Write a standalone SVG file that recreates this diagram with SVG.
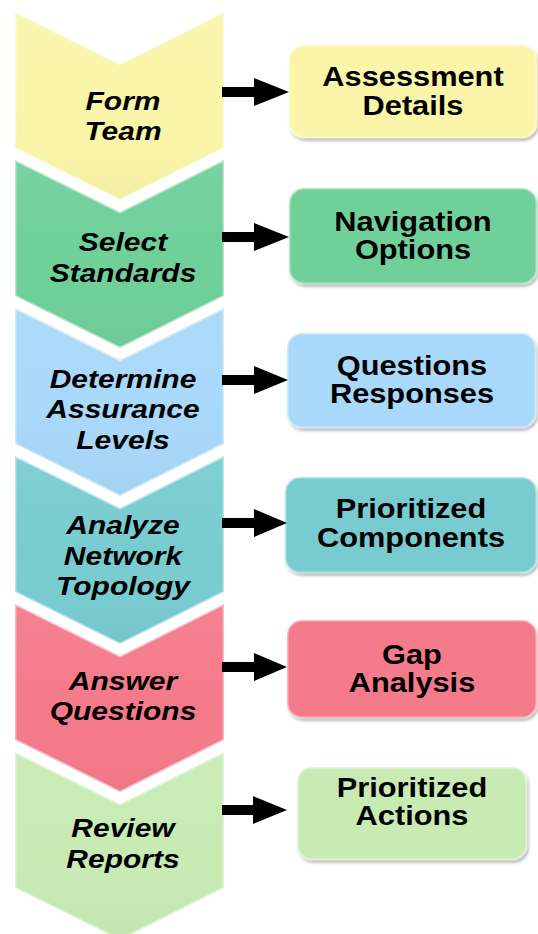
<svg xmlns="http://www.w3.org/2000/svg" width="538" height="934" viewBox="0 0 538 934">
<style>
.step{font-family:"Liberation Sans",Arial,sans-serif;font-weight:bold;font-style:italic;font-size:25px;fill:#000;text-anchor:middle}
.out{font-family:"Liberation Sans",Arial,sans-serif;font-weight:bold;font-size:27px;fill:#000;text-anchor:middle}
.bev{fill:none;stroke:#ffffff;stroke-opacity:0.45;stroke-width:3}
.arrow{fill:#000}
</style>
<defs>
<filter id="sh" x="-10%" y="-10%" width="125%" height="130%">
<feDropShadow dx="1.5" dy="2.5" stdDeviation="1.5" flood-color="#000" flood-opacity="0.35"/>
</filter>
<linearGradient id="shade" x1="0" y1="0" x2="0" y2="1">
<stop offset="0" stop-color="#fff" stop-opacity="0.06"/>
<stop offset="0.5" stop-color="#fff" stop-opacity="0"/>
<stop offset="1" stop-color="#000" stop-opacity="0.03"/>
</linearGradient>
<path id="chev" d="M15,0 L120,52 L224,0 L224,136 L120,188 L15,136 Z"/>
</defs>

<g id="step1" transform="translate(0,12)">
<use href="#chev" fill="#FAF5A8"/><use href="#chev" fill="url(#shade)"/><use href="#chev" class="bev"/>
</g>
<g id="step2" transform="translate(0,160)">
<use href="#chev" fill="#6FD09A"/><use href="#chev" fill="url(#shade)"/><use href="#chev" class="bev"/>
</g>
<g id="step3" transform="translate(0,308)">
<use href="#chev" fill="#A8D8FA"/><use href="#chev" fill="url(#shade)"/><use href="#chev" class="bev"/>
</g>
<g id="step4" transform="translate(0,456)">
<use href="#chev" fill="#78CCD0"/><use href="#chev" fill="url(#shade)"/><use href="#chev" class="bev"/>
</g>
<g id="step5" transform="translate(0,604)">
<use href="#chev" fill="#F57A8A"/><use href="#chev" fill="url(#shade)"/><use href="#chev" class="bev"/>
</g>
<g id="step6" transform="translate(0,752)">
<use href="#chev" fill="#C8EBB4"/><use href="#chev" fill="url(#shade)"/><use href="#chev" class="bev"/>
</g>

<g id="step-labels">
<g transform="translate(123,0) scale(1.2,1)">
<text class="step" x="0" y="110">Form</text>
<text class="step" x="0" y="140">Team</text>
<text class="step" x="0" y="251">Select</text>
<text class="step" x="0" y="282">Standards</text>
<text class="step" x="0" y="388">Determine</text>
<text class="step" x="0" y="418">Assurance</text>
<text class="step" x="0" y="449">Levels</text>
<text class="step" x="0" y="534">Analyze</text>
<text class="step" x="0" y="565">Network</text>
<text class="step" x="0" y="595">Topology</text>
<text class="step" x="0" y="690">Answer</text>
<text class="step" x="0" y="720">Questions</text>
<text class="step" x="0" y="837">Review</text>
<text class="step" x="0" y="868">Reports</text>
</g>
</g>

<g id="out1">
<rect x="289" y="45" width="248" height="93" rx="15" fill="#FAF5A8" filter="url(#sh)"/>
<rect x="289" y="45" width="248" height="93" rx="15" fill="url(#shade)" class="bev"/>
<g transform="translate(413,0) scale(1.14,1)"><text class="out" x="0" y="86">Assessment</text><text class="out" x="0" y="115">Details</text></g>
</g>
<g id="out2">
<rect x="289" y="188" width="248" height="96" rx="15" fill="#6FD09A" filter="url(#sh)"/>
<rect x="289" y="188" width="248" height="96" rx="15" fill="url(#shade)" class="bev"/>
<g transform="translate(413,0) scale(1.14,1)"><text class="out" x="0" y="231">Navigation</text><text class="out" x="0" y="259">Options</text></g>
</g>
<g id="out3">
<rect x="287" y="333" width="249" height="95" rx="15" fill="#A8D8FA" filter="url(#sh)"/>
<rect x="287" y="333" width="249" height="95" rx="15" fill="url(#shade)" class="bev"/>
<g transform="translate(412,0) scale(1.14,1)"><text class="out" x="0" y="375">Questions</text><text class="out" x="0" y="403">Responses</text></g>
</g>
<g id="out4">
<rect x="285" y="477" width="252" height="96" rx="15" fill="#78CCD0" filter="url(#sh)"/>
<rect x="285" y="477" width="252" height="96" rx="15" fill="url(#shade)" class="bev"/>
<g transform="translate(411,0) scale(1.14,1)"><text class="out" x="0" y="518">Prioritized</text><text class="out" x="0" y="547">Components</text></g>
</g>
<g id="out5">
<rect x="287" y="620" width="250" height="98" rx="15" fill="#F57A8A" filter="url(#sh)"/>
<rect x="287" y="620" width="250" height="98" rx="15" fill="url(#shade)" class="bev"/>
<g transform="translate(412,0) scale(1.14,1)"><text class="out" x="0" y="664">Gap</text><text class="out" x="0" y="692">Analysis</text></g>
</g>
<g id="out6">
<rect x="297" y="767" width="230" height="93" rx="15" fill="#C8EBB4" filter="url(#sh)"/>
<rect x="297" y="767" width="230" height="93" rx="15" fill="url(#shade)" class="bev"/>
<g transform="translate(412,0) scale(1.14,1)"><text class="out" x="0" y="797">Prioritized</text><text class="out" x="0" y="825">Actions</text></g>
</g>

<g id="connectors">
<path class="arrow" d="M222,87 H254 V78 L289,92 L254,106 V97 H222 Z"/>
<path class="arrow" d="M222,232 H254 V223 L289,237 L254,251 V242 H222 Z"/>
<path class="arrow" d="M222,375 H254 V366 L288,380 L254,394 V385 H222 Z"/>
<path class="arrow" d="M222,518 H254 V509 L287,523 L254,537 V528 H222 Z"/>
<path class="arrow" d="M222,662 H254 V653 L287,667 L254,681 V672 H222 Z"/>
<path class="arrow" d="M222,805 H253 V796 L287,810 L253,824 V815 H222 Z"/>
</g>
</svg>
